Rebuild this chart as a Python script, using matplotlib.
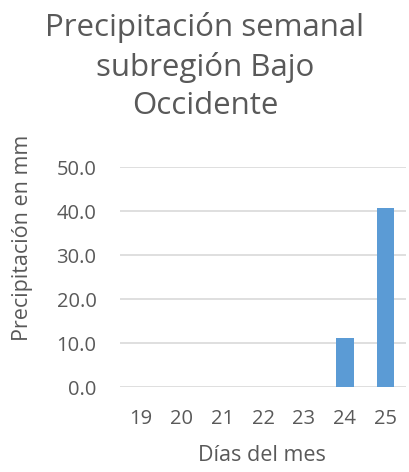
import matplotlib.pyplot as plt
import numpy as np

days = ["19", "20", "21", "22", "23", "24", "25"]
rain_mm = [0.0, 0.0, 0.0, 0.0, 0.0, 11.1, 40.7]
y_ticks = [0, 10, 20, 30, 40, 50]

plt.rcParams['font.family'] = ['Open Sans', 'DejaVu Sans']
text_color = '#595959'

fig = plt.figure(figsize=(4.10, 4.72), dpi=100)
ax = fig.add_axes([0.293, 0.18, 0.697, 0.466])

x = np.arange(len(days))
ax.bar(x, rain_mm, width=0.44, color='#5b9bd5', zorder=3)

ax.set_xlim(-0.5, len(days) - 0.5)
ax.set_ylim(0, 50)
ax.set_yticks(y_ticks)
ax.set_yticklabels([f"{v:.1f}" for v in y_ticks])
ax.set_xticks(x)
ax.set_xticklabels(days)
ax.grid(axis='y', color='#d9d9d9', linewidth=1.2, zorder=0)
for s in ax.spines.values():
    s.set_visible(False)
ax.tick_params(length=0, labelsize=14.5, colors=text_color)
ax.tick_params(axis='x', pad=16)
ax.tick_params(axis='y', pad=17)

ax.set_xlabel("Días del mes", fontsize=15.5, color=text_color)
ax.xaxis.set_label_coords(0.495, -0.31)
ax.set_ylabel("Precipitación en mm", fontsize=15.5, color=text_color)
ax.yaxis.set_label_coords(-0.343, 0.677)
ax.yaxis.label.set_va('center')
ax.xaxis.label.set_va('center')

fig.text(0.5, 0.975, "Precipitación semanal\nsubregión Bajo\nOccidente",
         ha='center', va='top', fontsize=22.5, color=text_color, linespacing=1.37)

fig.savefig("out.png", dpi=100)
